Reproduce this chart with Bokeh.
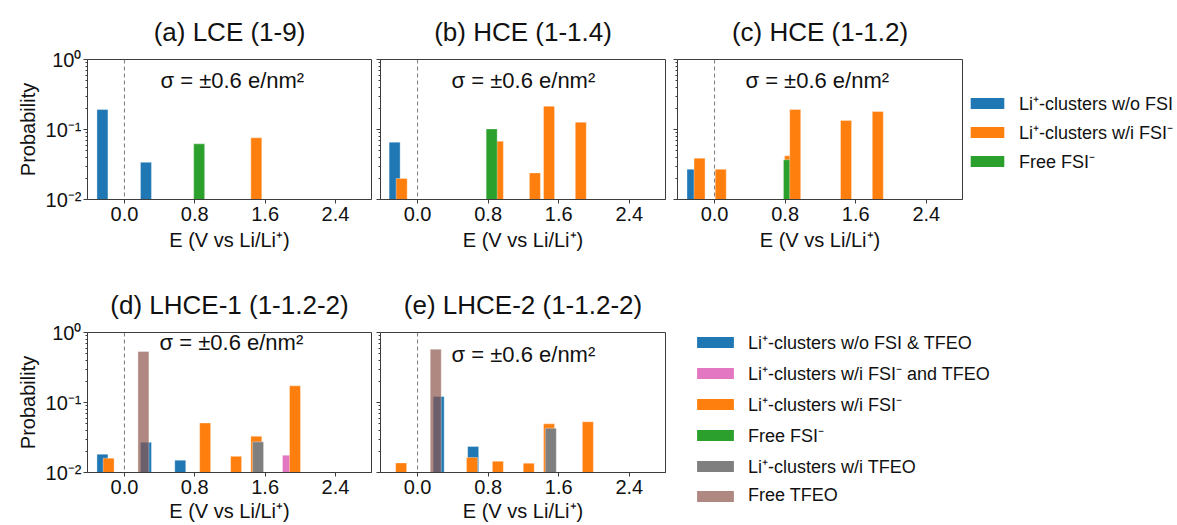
from bokeh.plotting import figure
from bokeh.layouts import row, column
from bokeh.models import (FixedTicker, Span, Label, Legend, LegendItem,
                          ColumnDataSource, Range1d, NumeralTickFormatter)
from bokeh.embed import file_html
from bokeh.resources import INLINE

FONT = "Liberation Sans"
TXT = "#111111"
AX = "#3c3c3c"

# ---------------- data ----------------
x_ticks = [0.0, 0.8, 1.6, 2.4]
y_ticks = [0.01, 0.1, 1.0]
y_tick_labels = ["10\u207b\u00b2", "10\u207b\u00b9", "10\u2070"]
x_label = "E (V vs Li/Li\u207a)"
y_label = "Probability"
sigma_text = "\u03c3 = \u00b10.6 e/nm\u00b2"

titles = ["(a) LCE (1-9)", "(b) HCE (1-1.4)", "(c) HCE (1-1.2)",
          "(d) LHCE-1 (1-1.2-2)", "(e) LHCE-2 (1-1.2-2)"]

cat_names = ["noFSI", "FSI", "freeFSI", "FSI_TFEO", "TFEO", "freeTFEO"]
cat_colors = ["#1f77b4", "#ff7f0e", "#2ca02c", "#e377c2", "#7f7f7f", "#8c564b"]
cat_alpha = [1.0, 1.0, 1.0, 1.0, 1.0, 0.7]

# bars of each panel, in drawing order
a_E = [-0.25, 0.245, 0.85, 1.50]
a_P = [0.193, 0.034, 0.0624, 0.076]
a_cat = ["noFSI", "noFSI", "freeFSI", "FSI"]

b_E = [-0.26, -0.18, 0.91, 0.84, 1.33, 1.49, 1.85]
b_P = [0.066, 0.020, 0.068, 0.102, 0.024, 0.215, 0.127]
b_cat = ["noFSI", "FSI", "FSI", "freeFSI", "FSI", "FSI", "FSI"]

c_E = [-0.25, -0.17, 0.07, 0.855, 0.843, 0.914, 1.49, 1.85]
c_P = [0.027, 0.039, 0.027, 0.042, 0.037, 0.193, 0.135, 0.181]
c_cat = ["noFSI", "FSI", "FSI", "FSI", "freeFSI", "FSI", "FSI", "FSI"]

d_E = [-0.25, -0.18, 0.245, 0.216, 0.635, 0.918, 1.27, 1.50, 1.52, 1.86, 1.94]
d_P = [0.0183, 0.016, 0.027, 0.535, 0.015, 0.051, 0.017, 0.033, 0.0274, 0.0177, 0.173]
d_cat = ["noFSI", "FSI", "noFSI", "freeTFEO", "noFSI", "FSI", "FSI", "FSI",
         "TFEO", "FSI_TFEO", "FSI"]

e_E = [-0.186, 0.239, 0.206, 0.63, 0.617, 0.91, 1.26, 1.49, 1.51, 1.93]
e_P = [0.0137, 0.122, 0.578, 0.0235, 0.0164, 0.0145, 0.0136, 0.0496, 0.043, 0.053]
e_cat = ["FSI", "noFSI", "freeTFEO", "noFSI", "FSI", "FSI", "FSI", "FSI", "TFEO", "FSI"]

legend1_cats = ["noFSI", "FSI", "freeFSI"]
legend1_labels = ["Li\u207a-clusters w/o FSI", "Li\u207a-clusters w/i FSI\u207b", "Free FSI\u207b"]
legend2_cats = ["noFSI", "FSI_TFEO", "FSI", "freeFSI", "TFEO", "freeTFEO"]
legend2_labels = ["Li\u207a-clusters w/o FSI & TFEO",
                  "Li\u207a-clusters w/i FSI\u207b and TFEO",
                  "Li\u207a-clusters w/i FSI\u207b",
                  "Free FSI\u207b",
                  "Li\u207a-clusters w/i TFEO",
                  "Free TFEO"]

cmap = dict(zip(cat_names, cat_colors))
amap = dict(zip(cat_names, cat_alpha))
minor = [m * 10.0 ** e for e in (-2, -1) for m in range(2, 10)]


def panel(title, E, P, cats, frame_w, mbl, mbr, mbt, mbb, ylabels, sx, sy,
          xlabel_standoff, title_pad):
    p = figure(frame_width=frame_w, frame_height=140,
               x_range=Range1d(-0.42, 2.81), y_range=Range1d(0.01, 1.0),
               y_axis_type="log", output_backend="svg", toolbar_location=None,
               min_border_left=mbl, min_border_right=mbr,
               min_border_top=mbt, min_border_bottom=mbb)
    p.xgrid.visible = False
    p.ygrid.visible = False
    p.outline_line_color = AX
    p.outline_line_width = 1
    p.background_fill_color = "white"
    p.border_fill_color = "white"

    p.title.text = title
    p.title.align = "center"
    p.title.text_font = FONT
    p.title.text_font_size = "26px"
    p.title.text_font_style = "normal"
    p.title.text_color = TXT
    if "padding" in p.title.properties():
        p.title.padding = title_pad

    src = ColumnDataSource(dict(E=E, P=P,
                                color=[cmap[c] for c in cats],
                                alpha=[amap[c] for c in cats]))
    p.vbar(x="E", top="P", bottom=0.01, width=0.125, source=src,
           fill_color="color", fill_alpha="alpha",
           line_color="white", line_alpha=0.35, line_width=1)

    p.add_layout(Span(location=0.0, dimension="height", line_color="#7a7a7a",
                      line_dash="4 3", line_width=1))
    p.add_layout(Label(x=sx, y=sy, text=sigma_text, text_font=FONT,
                       text_font_size="22px", text_baseline="middle",
                       text_align="left", text_color=TXT))

    xa = p.xaxis[0]
    xa.ticker = FixedTicker(ticks=x_ticks)
    xa.formatter = NumeralTickFormatter(format="0.0")
    xa.axis_label = x_label
    xa.axis_label_text_font = FONT
    xa.axis_label_text_font_size = "20px"
    xa.axis_label_text_font_style = "normal"
    xa.axis_label_text_color = TXT
    xa.axis_label_standoff = xlabel_standoff
    xa.major_label_text_font = FONT
    xa.major_label_text_font_size = "20px"
    xa.major_label_text_color = TXT
    xa.major_label_standoff = 3
    xa.major_tick_out = 4
    xa.major_tick_in = 0
    xa.minor_tick_out = 0
    xa.axis_line_color = AX
    xa.major_tick_line_color = AX

    ya = p.yaxis[0]
    ya.ticker = FixedTicker(ticks=y_ticks, minor_ticks=minor)
    ya.major_tick_out = 4
    ya.major_tick_in = 0
    ya.minor_tick_out = 2
    ya.minor_tick_in = 0
    ya.axis_line_color = AX
    ya.major_tick_line_color = AX
    ya.minor_tick_line_color = AX
    if ylabels:
        ya.major_label_overrides = dict(zip(y_ticks, y_tick_labels))
        ya.major_label_text_font = FONT
        ya.major_label_text_font_size = "20px"
        ya.major_label_text_color = TXT
        ya.major_label_standoff = 2
        ya.axis_label = y_label
        ya.axis_label_text_font = FONT
        ya.axis_label_text_font_size = "20px"
        ya.axis_label_text_font_style = "normal"
        ya.axis_label_text_color = TXT
        ya.axis_label_standoff = 4
    else:
        ya.major_label_overrides = {t: "" for t in y_ticks}
        ya.major_label_text_font_size = "0px"
        ya.major_label_standoff = 0
    return p


def legend_fig(width, mbt, frame_h, mbb, cats, labels, gw, standoff, spacing, loc):
    # frame top aligned with the panels of the same row; legend placed by offset
    f = figure(width=width, frame_height=frame_h, min_border_left=0, min_border_top=mbt,
               min_border_right=0, min_border_bottom=mbb,
               x_range=Range1d(0, 1), y_range=Range1d(0, 1),
               toolbar_location=None, output_backend="svg",
               x_axis_location=None, y_axis_location=None)
    f.outline_line_color = None
    f.grid.visible = False
    items = []
    for c, lab in zip(cats, labels):
        # zero-height proxy bar: only provides the legend swatch
        r = f.vbar(x=[0.5], top=[0.0], bottom=0.0, width=0.01,
                   fill_color=cmap[c], fill_alpha=amap[c], line_color=None)
        items.append(LegendItem(label=lab, renderers=[r]))
    leg = Legend(items=items, location=loc, margin=0, padding=0,
                 spacing=spacing, glyph_width=gw, glyph_height=14,
                 label_standoff=standoff, label_text_font=FONT,
                 label_text_font_size="18px", label_text_color=TXT,
                 border_line_alpha=0, background_fill_alpha=0)
    f.add_layout(leg)
    return f


fa = panel(titles[0], a_E, a_P, a_cat, 284, 87, 4, 59, 70, True, 0.41, 0.50, 5, 8)
fb = panel(titles[1], b_E, b_P, b_cat, 285, 5, 7, 59, 70, False, 0.386, 0.50, 5, 8)
fc = panel(titles[2], c_E, c_P, c_cat, 285, 5, 3, 59, 70, False, 0.35, 0.50, 5, 8)
lf1 = legend_fig(212, 59, 140, 70, legend1_cats, legend1_labels, 42, 11, 5, (1, 26))

fd = panel(titles[3], d_E, d_P, d_cat, 284, 87, 4, 63, 53, True, 0.40, 0.72, 3, 8)
fe = panel(titles[4], e_E, e_P, e_cat, 285, 5, 10, 63, 53, False, 0.386, 0.49, 3, 8)
lf2 = legend_fig(502, 63, 193, 0, legend2_cats, legend2_labels, 46, 10, 7, (17, 19))

layout = column(row(fa, fb, fc, lf1), row(fd, fe, lf2))

open("out.html", "w").write(file_html(layout, INLINE))
